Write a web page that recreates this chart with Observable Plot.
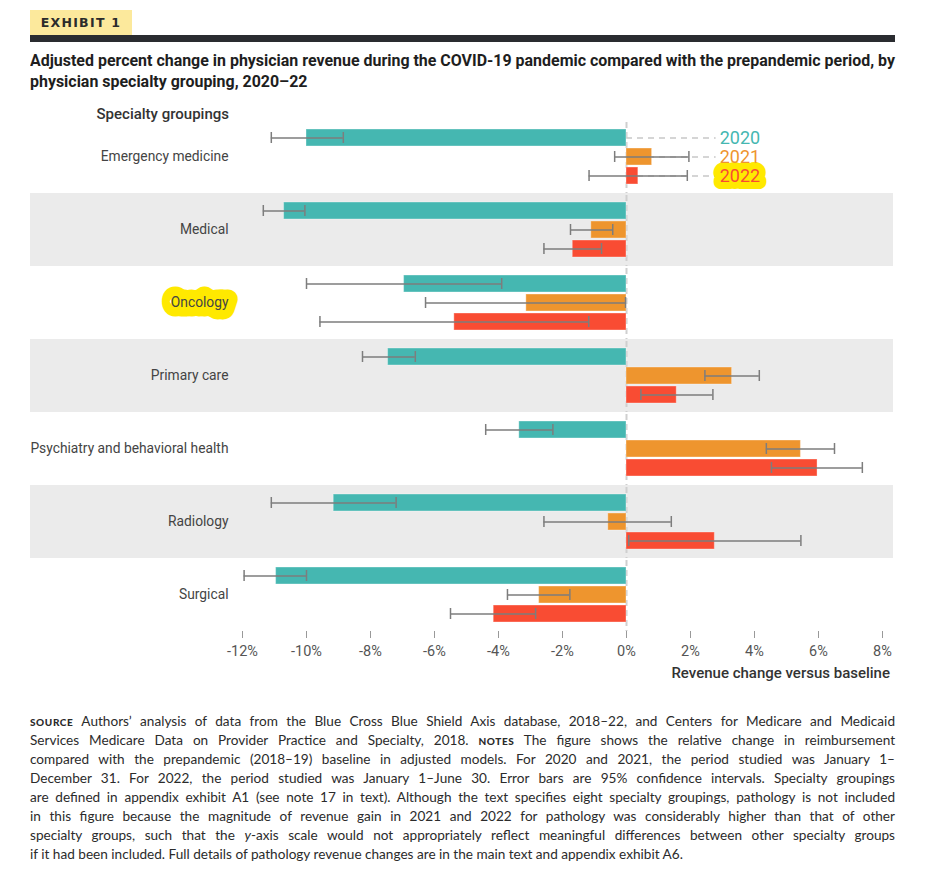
<!DOCTYPE html>
<html>
<head>
<meta charset="utf-8">
<script src="https://cdn.jsdelivr.net/npm/d3@7"></script>
<script src="https://cdn.jsdelivr.net/npm/@observablehq/plot@0.6"></script>
<style>
  body { margin: 0; background: #fff; width: 937px; height: 878px; position: relative; overflow: hidden; }
  .cond { font-family: Roboto, sans-serif; }
  #exhibit { position: absolute; left: 30px; top: 10px; width: 102px; height: 25px; background: #fce99c;
    font-family: "DejaVu Sans", sans-serif; font-weight: bold; font-size: 12.5px; letter-spacing: 1.3px;
    color: #2b2b2b; line-height: 26px; text-align: center; }
  #rule { position: absolute; left: 30px; top: 35px; width: 865px; height: 7px; background: #2a2c30; }
  #title { position: absolute; left: 30px; top: 50px; font-family: Roboto, sans-serif;
    font-weight: bold; font-size: 17px; line-height: 21px; color: #1e1e1e; white-space: nowrap; transform-origin: 0 0; }
  #ylab { position: absolute; left: 30px; width: 199px; top: 105px; text-align: right; font-size: 15px; color: #333; font-weight: 500; }
  #chart { position: absolute; left: 30px; top: 100px; }
  #chart svg { overflow: visible; }
  #xlab { position: absolute; right: 47px; top: 664px; font-size: 15px; color: #333; font-weight: 500; }
  #note { position: absolute; left: 30px; top: 712px; width: 865px; font-family: Lato, "Open Sans", sans-serif;
    font-size: 13.6px; line-height: 19px; color: #2b2b2b; }
  #note div { text-align: justify; text-align-last: justify; white-space: nowrap; }
  #note div.last { text-align-last: left; }
  .sc { font-variant: small-caps; text-transform: lowercase; font-weight: 900; letter-spacing: 0.6px; }
</style>
</head>
<body>
<div id="exhibit">EXHIBIT 1</div>
<div id="rule"></div>
<div id="title">Adjusted percent change in physician revenue during the COVID-19 pandemic compared with the prepandemic period, by<br>physician specialty grouping, 2020–22</div>
<div id="ylab" class="cond">Specialty groupings</div>
<div id="chart"></div>
<div id="xlab" class="cond">Revenue change versus baseline</div>
<div id="note">
<div><span class="sc">SOURCE</span> Authors’ analysis of data from the Blue Cross Blue Shield Axis database, 2018–22, and Centers for Medicare and Medicaid</div>
<div>Services Medicare Data on Provider Practice and Specialty, 2018. <span class="sc">NOTES</span> The figure shows the relative change in reimbursement</div>
<div>compared with the prepandemic (2018–19) baseline in adjusted models. For 2020 and 2021, the period studied was January 1–</div>
<div>December 31. For 2022, the period studied was January 1–June 30. Error bars are 95% confidence intervals. Specialty groupings</div>
<div>are defined in appendix exhibit A1 (see note 17 in text). Although the text specifies eight specialty groupings, pathology is not included</div>
<div>in this figure because the magnitude of revenue gain in 2021 and 2022 for pathology was considerably higher than that of other</div>
<div>specialty groups, such that the <i>y</i>-axis scale would not appropriately reflect meaningful differences between other specialty groups</div>
<div class="last">if it had been included. Full details of pathology revenue changes are in the main text and appendix exhibit A6.</div>
</div>
<script>
// ---- data ----
const groups = ["Emergency medicine", "Medical", "Oncology", "Primary care",
  "Psychiatry and behavioral health", "Radiology", "Surgical"];
const years = ["2020", "2021", "2022"];
const colors = ["#45b7b1", "#ee952e", "#f94c33"];
const shadedGroups = ["Medical", "Primary care", "Radiology"];
const highlightedGroups = ["Oncology"];
const xTicks = [-12, -10, -8, -6, -4, -2, 0, 2, 4, 6, 8];

// estimates per group, in order 2020, 2021, 2022
const est2020 = [-10.0, -10.7, -6.95, -7.45, -3.35, -9.15, -10.95];
const lo2020  = [-11.1, -11.35, -10.0, -8.25, -4.4, -11.1, -11.95];
const hi2020  = [-8.85, -10.05, -3.9, -6.6, -2.3, -7.2, -10.0];

const est2021 = [0.8, -1.1, -3.13, 3.3, 5.45, -0.57, -2.73];
const lo2021  = [-0.37, -1.75, -6.28, 2.45, 4.37, -2.58, -3.72];
const hi2021  = [1.95, -0.43, -0.03, 4.15, 6.5, 1.4, -1.77];

const est2022 = [0.37, -1.68, -5.38, 1.57, 5.97, 2.76, -4.15];
const lo2022  = [-1.17, -2.58, -9.58, 0.45, 4.53, 0.07, -5.5];
const hi2022  = [1.9, -0.78, -1.18, 2.7, 7.37, 5.45, -2.84];

// ---- table ----
const series = [[est2020, lo2020, hi2020], [est2021, lo2021, hi2021], [est2022, lo2022, hi2022]];
const rows = [];
groups.forEach((g, gi) => years.forEach((y, yi) => rows.push({
  group: g, year: y, value: series[yi][0][gi], lo: series[yi][1][gi], hi: series[yi][2][gi]
})));
const legendRows = years.map(y => ({group: groups[0], year: y}));
const legendStart = 0, legendEnd = 2.8, legendText = 2.88;

const font = 'Roboto, sans-serif';
const errColor = "#7d7d7d";

const chart = Plot.plot({
  width: 865,
  height: 590,
  marginTop: 19,
  marginBottom: 58,
  marginLeft: 212,
  marginRight: 13,
  style: {fontFamily: font, fontSize: "14px", color: "#444", background: "transparent"},
  x: {type: "linear", domain: [-12, 8], ticks: xTicks, tickFormat: d => `${d}%`, tickSize: 7, tickPadding: 7, label: null},
  y: {domain: years, paddingInner: 0.09, paddingOuter: 0.4, axis: null},
  fy: {domain: groups, padding: 0, axis: null},
  color: {domain: years, range: colors},
  marks: [
    Plot.rect(shadedGroups, {fy: d => d, fill: "#ebebeb", insetLeft: -212, insetRight: -11}),
    Plot.text(highlightedGroups, {fy: d => d, text: d => d, frameAnchor: "left", textAnchor: "end", dx: -14,
      fill: "#ffe900", stroke: "#ffe900", strokeWidth: 19, strokeLinejoin: "round", fontSize: 13.8}),
    Plot.text(groups, {fy: d => d, text: d => d, frameAnchor: "left", textAnchor: "end", dx: -14,
      fill: "#444", fontSize: 13.8}),
    Plot.ruleX([0], {stroke: "#cfcfcf", strokeWidth: 2, strokeDasharray: "6,4", insetTop: 2}),
    Plot.ruleY(legendRows, {fy: "group", y: "year", x1: () => legendStart, x2: () => legendEnd,
      stroke: "#c8c8c8", strokeWidth: 1.5, strokeDasharray: "6,5"}),
    Plot.text(legendRows.filter(d => d.year === "2022"), {fy: "group", y: "year", x: () => legendText, text: "year",
      textAnchor: "start", fill: "#ffe900", stroke: "#ffe900", strokeWidth: 14, strokeLinejoin: "round", fontSize: 18, dx: 1}),
    Plot.text(legendRows, {fy: "group", y: "year", x: () => legendText, text: "year", textAnchor: "start",
      fill: "year", fontSize: 18, dx: 1}),
    Plot.barX(rows, {fy: "group", y: "year", x: "value", fill: "year", stroke: "#ffffff", strokeOpacity: 0.35, strokeWidth: 1}),
    Plot.ruleY(rows, {fy: "group", y: "year", x1: "lo", x2: "hi", stroke: errColor, strokeWidth: 1.5}),
    Plot.tickX(rows, {fy: "group", y: "year", x: "lo", stroke: errColor, strokeWidth: 1.5, insetTop: 3, insetBottom: 3}),
    Plot.tickX(rows, {fy: "group", y: "year", x: "hi", stroke: errColor, strokeWidth: 1.5, insetTop: 3, insetBottom: 3})
  ]
});
chart.querySelectorAll("[aria-label='x-axis tick'] path, [aria-label='x-axis tick'] line").forEach(e => e.setAttribute("stroke", "#999"));
chart.querySelectorAll("[aria-label='x-axis tick label']").forEach(e => { e.setAttribute("font-size", "14.5"); e.setAttribute("fill", "#555"); });
document.getElementById("chart").appendChild(chart);

// fit the title's first line to the page width
const title = document.getElementById("title");
const w = title.getBoundingClientRect().width;
if (w > 865) title.style.transform = `scaleX(${865 / w})`;
</script>
</body>
</html>
